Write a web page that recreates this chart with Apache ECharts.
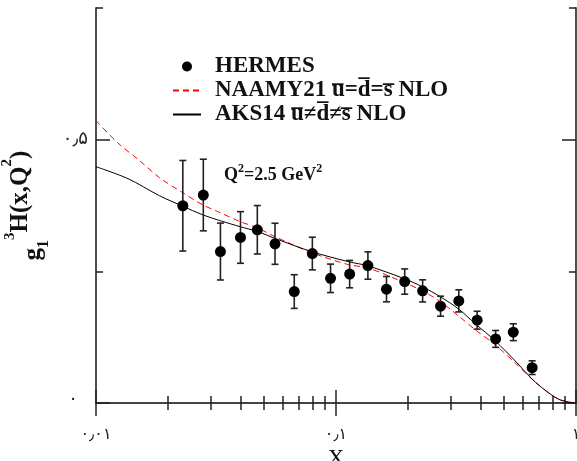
<!DOCTYPE html>
<html><head><meta charset="utf-8">
<script src="https://cdn.jsdelivr.net/npm/echarts@6/dist/echarts.min.js"></script>
<style>html,body{margin:0;padding:0;background:#fff}#c{width:577px;height:461px}</style>
</head><body><div id="c"></div>
<script>
// HERMES data
const hermesX = [0.0230,0.0280,0.0330,0.0400,0.0470,0.0557,0.0670,0.0797,0.0949,0.1140,0.1358,0.1623,0.1933,0.2296,0.2727,0.3248,0.3873,0.4625,0.5479,0.6567];
const hermesY = [0.3745,0.3949,0.2876,0.3143,0.3289,0.3023,0.2116,0.2838,0.2367,0.2447,0.2610,0.2162,0.2306,0.2129,0.1838,0.1939,0.1572,0.1217,0.1344,0.0671];
const hermesErr = [0.086,0.068,0.054,0.049,0.046,0.039,0.032,0.031,0.027,0.026,0.026,0.024,0.024,0.021,0.019,0.021,0.017,0.016,0.016,0.013];
// NAAMY21 curve (red dashed)
const naamyX = [0.0100,0.0123,0.0152,0.0184,0.0230,0.0278,0.0330,0.0400,0.0470,0.0558,0.0795,0.1132,0.1358,0.1933,0.2296,0.2727,0.3239,0.3810,0.4612,0.5583,0.6760,0.8420,0.9900];
const naamyY = [0.5361,0.4943,0.4601,0.4278,0.3992,0.3764,0.3612,0.3441,0.3327,0.3156,0.2852,0.2624,0.2567,0.2281,0.2129,0.1920,0.1654,0.1388,0.1103,0.0760,0.0399,0.0076,0.0000];
// AKS14 curve (black solid)
const aksX = [0.0100,0.0136,0.0184,0.0230,0.0278,0.0330,0.0400,0.0470,0.0558,0.0795,0.1132,0.1358,0.1933,0.2296,0.2727,0.3239,0.3810,0.4612,0.5583,0.6760,0.8420,0.9900];
const aksY = [0.4487,0.4259,0.3935,0.3736,0.3574,0.3460,0.3346,0.3257,0.3124,0.2871,0.2681,0.2605,0.2357,0.2205,0.2015,0.1787,0.1502,0.1179,0.0798,0.0399,0.0076,0.0000];
// ticks
const xMajorTicks = [0.01, 0.1, 1];
const xMajorLabels = ['۰٫۰۱', '۰٫۱', '۱'];
const xMinorTicks = [0.02,0.03,0.04,0.05,0.06,0.07,0.08,0.09,0.2,0.3,0.4,0.5,0.6,0.7,0.8,0.9];
const yMajorTicks = [0, 0.5];
const yMajorLabels = ['۰', '۰٫۵'];
const yMinorTicks = [0.25, 0.75];
const seriesNames = ['HERMES', 'NAAMY21 u\u0305=d\u0305=s\u0305 NLO', 'AKS14 u\u0305\u2260d\u0305\u2260s\u0305 NLO'];

const chart = echarts.init(document.getElementById('c'));
const axisColor = '#444';
function xAxisDef(pos, ticks, len, labels) {
  const a = {
    type: 'log', logBase: 10, min: 0.01, max: 1, position: pos, gridIndex: 0,
    axisLine: { show: true, lineStyle: { color: axisColor, width: 1.5 } },
    axisTick: { show: true, inside: true, length: len, customValues: ticks, lineStyle: { color: '#222', width: 1.5 } },
    axisLabel: { show: false }, splitLine: { show: false }
  };
  if (labels) {
    a.axisLabel = { show: true, customValues: xMajorTicks, margin: 24, fontSize: 16, fontFamily: 'DejaVu Sans', color: '#222',
      formatter: v => { const i = xMajorTicks.findIndex(t => Math.abs(Math.log10(t) - Math.log10(v)) < 1e-6); return i >= 0 ? xMajorLabels[i] : ''; } };
    a.name = 'X'; a.nameLocation = 'middle'; a.nameGap = 30;
    a.nameTextStyle = { fontFamily: 'Liberation Serif', fontSize: 23, color: '#111' };
  }
  return a;
}
function yAxisDef(pos, ticks, len, labels) {
  const a = {
    type: 'value', min: 0, max: 0.75, interval: 0.25, position: pos, gridIndex: 0,
    axisLine: { show: true, lineStyle: { color: axisColor, width: 1.5 } },
    axisTick: { show: true, inside: true, length: len, customValues: ticks, lineStyle: { color: '#222', width: 1.5 } },
    axisLabel: { show: false }, splitLine: { show: false }
  };
  if (labels) {
    a.axisLabel = { show: true, customValues: yMajorTicks, margin: 8, fontSize: 18, fontFamily: 'DejaVu Sans', color: '#222',
      formatter: v => { const i = yMajorTicks.findIndex(t => Math.abs(t - v) < 1e-6); return i >= 0 ? (i === 0 ? '{z|' + yMajorLabels[i] + '}' : yMajorLabels[i]) : ''; },
      rich: { z: { fontSize: 18, fontFamily: 'DejaVu Sans', color: '#222', padding: [0, 10, 8, 0] } } };
    a.name = '{g|g}{s|1}{p|3}{m|H(x,Q}{q|2}{m|)}';
    a.nameLocation = 'middle'; a.nameGap = 40;
    const base = { fontFamily: 'Liberation Serif', fontWeight: 'bold', verticalAlign: 'bottom', lineHeight: 54 };
    a.nameTextStyle = {
      fontFamily: 'Liberation Serif', fontWeight: 'bold', color: '#111',
      rich: {
        g: Object.assign({}, base, { fontSize: 25, padding: [0,0,6,0] }),
        s: Object.assign({}, base, { fontSize: 16, padding: [0,0,0,0] }),
        p: Object.assign({}, base, { fontSize: 15, padding: [0,0,34,0] }),
        m: Object.assign({}, base, { fontSize: 25, padding: [0,0,19,0] }),
        q: Object.assign({}, base, { fontSize: 15, padding: [0,0,37,0] })
      }
    };
  }
  return a;
}

const errData = hermesX.map((x, i) => [x, hermesY[i] - hermesErr[i], hermesY[i] + hermesErr[i]]);
const hidden = { color: 'rgba(0,0,0,0)', borderColor: 'rgba(0,0,0,0)', borderWidth: 0 };

chart.setOption({
  animation: false,
  backgroundColor: '#fff',
  grid: { left: 96, right: 1, top: 8, bottom: 58, containLabel: false, outerBoundsMode: 'none' },
  xAxis: [
    xAxisDef('bottom', xMajorTicks, 13, true),
    xAxisDef('bottom', xMinorTicks, 7, false),
    xAxisDef('top', xMajorTicks, 13, false),
    xAxisDef('top', xMinorTicks, 7, false)
  ],
  yAxis: [
    yAxisDef('left', yMajorTicks, 14, true),
    yAxisDef('left', yMinorTicks, 7, false),
    yAxisDef('right', yMajorTicks, 14, false),
    yAxisDef('right', yMinorTicks, 7, false)
  ],
  legend: {
    left: 167, top: 50, orient: 'vertical', itemWidth: 28, itemHeight: 10, itemGap: 1,
    selectedMode: false,
    data: [
      { name: seriesNames[0], icon: 'circle' },
      { name: seriesNames[1], itemStyle: hidden },
      { name: seriesNames[2], itemStyle: hidden }
    ],
    textStyle: { fontFamily: 'Liberation Serif', fontWeight: 'bold', fontSize: 23, color: '#111', padding: [0,0,0,9] }
  },
  series: [
    {
      name: seriesNames[0], type: 'scatter', xAxisIndex: 0, yAxisIndex: 0, z: 5,
      symbol: 'circle', symbolSize: 11, itemStyle: { color: '#000', opacity: 1 },
      data: hermesX.map((x, i) => [x, hermesY[i]])
    },
    {
      name: 'err', type: 'custom', xAxisIndex: 0, yAxisIndex: 0, z: 4,
      data: errData,
      renderItem: (params, api) => {
        const lo = api.coord([api.value(0), api.value(1)]);
        const hi = api.coord([api.value(0), api.value(2)]);
        const w = 3.5;
        const st = { stroke: '#222', lineWidth: 1.6 };
        return { type: 'group', children: [
          { type: 'line', shape: { x1: lo[0], y1: lo[1], x2: hi[0], y2: hi[1] }, style: st },
          { type: 'line', shape: { x1: lo[0]-w, y1: lo[1], x2: lo[0]+w, y2: lo[1] }, style: st },
          { type: 'line', shape: { x1: hi[0]-w, y1: hi[1], x2: hi[0]+w, y2: hi[1] }, style: st }
        ]};
      }
    },
    {
      name: seriesNames[1], type: 'line', xAxisIndex: 0, yAxisIndex: 0, z: 3,
      symbol: 'none', smooth: 0.3, data: naamyX.map((x, i) => [x, naamyY[i]]),
      lineStyle: { color: '#ff0000', width: 1, type: [6, 4] }, itemStyle: { color: '#ff0000' }
    },
    {
      name: seriesNames[2], type: 'line', xAxisIndex: 0, yAxisIndex: 0, z: 3,
      symbol: 'none', smooth: 0.3, data: aksX.map((x, i) => [x, aksY[i]]),
      lineStyle: { color: '#000', width: 1 }, itemStyle: { color: '#000' }
    }
  ],
  graphic: [{
    type: 'text', left: 224, top: 163, silent: true,
    style: {
      text: '{m|Q}{p|2}{m|=2.5 GeV}{p|2}',
      rich: {
        m: { fontFamily: 'Liberation Serif', fontWeight: 'bold', fontSize: 18, fill: '#111', verticalAlign: 'bottom', lineHeight: 25 },
        p: { fontFamily: 'Liberation Serif', fontWeight: 'bold', fontSize: 12, fill: '#111', verticalAlign: 'bottom', lineHeight: 25, padding: [0,0,9,0] }
      }
    }
  }]
});
</script></body></html>
